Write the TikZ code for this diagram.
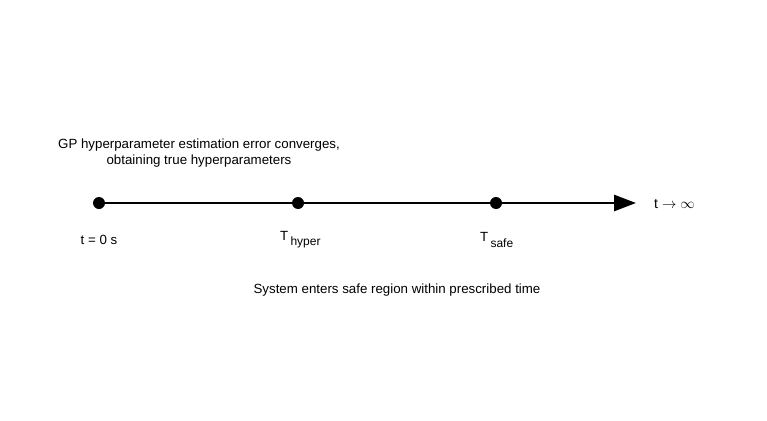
\documentclass[tikz,border=0pt]{standalone}
\usepackage{fontspec}
\setmainfont{Liberation Sans}
\usetikzlibrary{arrows.meta}
\begin{document}
\begin{tikzpicture}[x=1pt,y=-1pt,
  dot/.style={circle,fill=black,inner sep=0pt,minimum size=12pt},
  lbl/.style={font=\fontsize{13.3}{16}\selectfont,inner sep=0pt}]
\useasboundingbox[fill=white] (0,0) rectangle (767,420);
\node[dot] (d0) at (99,203) {};
\node[dot] (d1) at (298,203) {};
\node[dot] (d2) at (496,203) {};
\coordinate (tip) at (636,203);
\draw[line width=2.8pt,-{Triangle[length=22pt,width=16pt]}] (d0.center) -- (tip);
\node[anchor=west,font=\fontsize{14}{16}\selectfont,inner sep=0pt] (inf) at (654,204) {$\mathrm{t}\rightarrow\infty$};
\node[lbl] (l0) at (99,240) {t = 0 s};
\node[lbl,anchor=west] (l1) at (280,240) {T\,\raisebox{-0.75ex}{\fontsize{12}{14}\selectfont hyper}};
\node[lbl,anchor=west] (l2) at (480,240) {T\,\raisebox{-0.75ex}{\fontsize{12}{14}\selectfont safe}};
\node[lbl,align=center] (top) at (199,153) {GP hyperparameter estimation error converges,\\obtaining true hyperparameters};
\node[lbl] (bot) at (397,290) {System enters safe region within prescribed time};
\end{tikzpicture}
\end{document}
